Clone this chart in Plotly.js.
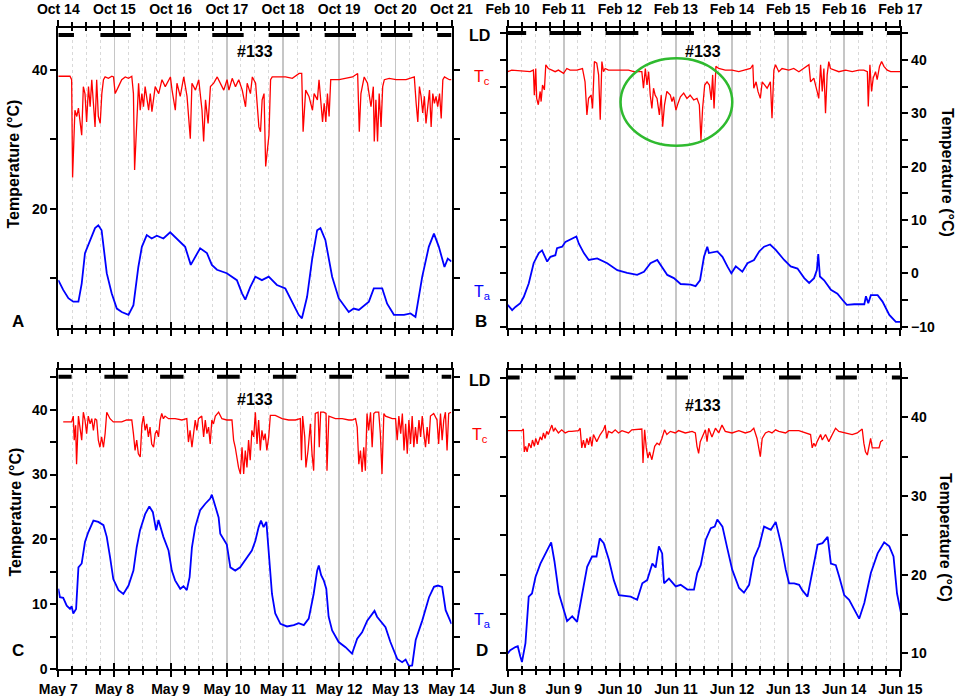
<!DOCTYPE html>
<html><head><meta charset="utf-8">
<script src="https://cdn.plot.ly/plotly-3.0.1.min.js"></script>
<style>html,body{margin:0;padding:0;background:#fff}#chart{width:957px;height:696px}</style>
</head><body><div id="chart"></div>
<script>
// ---------- tick labels ----------
const daysA = ['Oct 14','Oct 15','Oct 16','Oct 17','Oct 18','Oct 19','Oct 20','Oct 21'];
const daysB = ['Feb 10','Feb 11','Feb 12','Feb 13','Feb 14','Feb 15','Feb 16','Feb 17'];
const daysC = ['May 7','May 8','May 9','May 10','May 11','May 12','May 13','May 14'];
const daysD = ['Jun 8','Jun 9','Jun 10','Jun 11','Jun 12','Jun 13','Jun 14','Jun 15'];

// ---------- panel A (October) : hours since start, temperature °C ----------
const tcA_h = [0,5,5.7,6.1,7.1,7.9,8.6,10,10.7,11.4,12.1,12.9,13.6,14.3,15,15.7,16.4,17.1,17.9,18.6,19.3,20,21.4,22.9,23.6,24.3,25.7,27.1,28.6,30,31.4,32.1,32.6,33.6,34.3,35,35.7,36.4,37.1,38.6,39.3,40,41.4,42.9,44.3,45.7,47.1,47.9,48.6,50,50.7,52.1,53.6,55,56.4,57.1,58.6,60,61.4,62.1,62.9,64,65,66.4,67.9,69.3,70.7,72.1,72.9,74.3,75.7,77.1,78.6,80,80.7,82.1,82.9,84.3,85.7,86.4,87.1,87.9,88.6,90,90.7,91.4,94.3,97.1,100,102.9,104,104.6,105.7,107.1,108.6,109.3,110.7,111.4,112.9,113.6,114.3,115,115.7,116.4,120,122.9,125.7,127.9,128.6,129.3,130.7,132.1,133.6,134.6,135,135.7,136.4,137.1,137.9,138.6,139.3,141.4,144.3,148.6,152.1,152.9,153.6,154.3,155,155.7,156.4,157.1,158.6,159.3,160,160.7,161.4,162.1,162.9,163.6,164.3,165,167.1,168];
const tcA_v = [39.1,39.1,38.6,24.5,34.2,33.3,34.5,30.6,37.6,36.6,32.5,37.6,34.7,38.6,35.2,31.8,38.6,33.3,32.3,36.6,38.6,39,38.8,39.1,39,36.6,37.6,38.6,39,38.8,39.1,36.6,25.6,32.8,38.1,34.2,36.6,34.7,37.6,34.2,36.6,34,37.6,36.6,38.6,37.6,38.6,39,37.1,34.2,38.1,36.2,39,36.2,30.1,38.1,37.1,38.6,34.2,29.7,35.7,32.3,37.6,38.1,39,38.1,37.1,38.6,37.1,38.8,37.6,38.6,37.1,34.7,38.1,36.6,39,38.1,31.8,31.1,35.7,36.6,26.1,30.6,38.6,39,39,39,38.8,39.5,39.5,31.1,37.1,36.2,34.2,36.6,35.7,38.6,32.5,35.2,32.5,36.6,33.3,38.6,38.6,38.8,39,39.5,31.1,36.6,39,38.1,34.7,37.6,29.7,35.7,29.7,36.6,31.8,37.6,38.6,38.8,38.6,38.6,39,35.2,32.5,37.6,36.2,33.8,36.2,32.3,37.1,31.8,36.6,35.2,36.2,34.7,36.6,33,38.6,39,38.6,38.6];
const taA_h = [0,2.1,4.3,6.4,8.6,10,11.4,13.6,15.7,17.1,18.5,20.7,22.8,25,27.1,30,32.1,34.2,35.7,37.8,39.9,42.1,44.9,47.8,50.6,54.2,56.6,58.5,60.6,63.5,65.6,67.8,72,76.3,78.5,79.9,82,84.2,87,89.9,93.4,97,99.9,102.7,104.1,106.3,108.4,110.6,112,114.1,117,119.8,124.1,126.2,128.4,132.7,134.8,138.4,140.5,143.4,147.7,150.5,152.6,155.5,158.3,160.5,162.6,165,166.4,168];
const taA_v = [9.7,8.3,7.1,6.6,6.6,9.2,13.6,15.5,17.2,17.6,16.9,10.7,7.8,5.6,5.1,4.7,6.1,11.6,14.5,16.2,15.7,16.1,15.7,16.6,15.7,14.5,11.9,13.1,14.3,13.6,11.9,11.2,10.7,9.7,7.8,6.9,8.7,10.2,9.7,10.2,9.0,8.5,6.6,4.7,4.2,7.3,12.6,16.9,17.2,15.5,10.2,7.1,5.1,5.6,5.4,6.6,8.5,8.5,6.3,4.7,4.7,4.9,4.4,10.2,14.5,16.4,14.5,11.6,12.8,12.4];
const nightA_start = [0,18,41.7,65.8,89.9,113.8,137.8,161.9];
const nightA_end   = [6.7,31,55,79.2,103.1,127.2,151.3,168];

// ---------- panel B (February) ----------
const tcB_h = [0,1.7,9.6,11,11.4,12,12.4,13.1,13.9,14.3,14.9,15.7,16.3,17.4,18.9,20.3,21.7,23.9,25.3,26.7,29.6,32,33.1,33.9,34.6,35.7,36.3,37.1,38.1,38.9,39.6,40.3,41,41.7,43.1,46,48.1,51.7,53.9,57.4,58.1,58.9,59.6,60.3,61,61.7,62.4,63.1,63.9,64.9,65.7,66.3,67.1,68.1,69.6,70.3,71,72,72.9,73.9,75.3,76.7,78.1,79.6,81,82,82.7,83.4,84.3,85.3,86.3,87.1,87.7,88.3,89.1,90.3,93.1,96,98.9,101.7,103.9,104.9,105.3,106.3,107.1,108.1,108.9,110,111,112.4,113.1,113.9,114.6,116,117.4,120.3,122.4,124.6,126.7,128.9,129.6,131,132.4,133.1,133.9,134.6,135.3,136,136.7,137.4,138.1,139.6,141.7,144.6,147.4,150.3,152.4,153.9,154.3,155,155.7,156.4,157.4,158.1,159.1,160,161,162.4,163.9,168];
const tcB_v = [37.8,38.1,37.8,38.1,33.4,38.4,32.8,31.6,34.1,32.2,35.3,34.4,39.1,38.4,38.1,37.8,38.1,37.5,38.4,38.1,38.1,38.4,35.9,29.7,32.8,33.4,30.9,39.7,39.4,37.2,28.8,39.7,37.8,38.4,38.1,38.1,38.1,38.1,37.8,37.8,34.7,38.4,35.3,37.8,33.4,30.9,34.7,33.4,32.8,29.7,33.4,27.5,31.6,34.1,33.4,32.2,33.1,30.6,31.9,33.1,33.8,32.8,33.4,32.5,32.8,31.6,25,30.9,35.3,35.9,35.3,32.5,37.2,30.9,38.8,38.4,38.1,38.1,37.8,38.1,38.4,39.1,34.7,35.9,34.1,32.8,35.9,35.3,34.7,35.9,29.1,38.1,39.1,37.8,38.4,38.1,38.4,37.8,38.4,39.1,35.9,36.6,34.1,32.8,39.1,34.1,38.4,30,37.2,39.7,38.4,38.1,37.8,38.1,37.8,38.1,38.1,37.8,31.3,39.1,34.1,36.6,37.8,36.3,38.8,39.7,38.8,38.1,37.8,37.8];
const taB_h = [0,1.9,3.3,5.4,6.9,9,11.1,13.3,14.7,16.9,18.3,20.4,21.1,23.3,24.7,26.9,29.4,30.4,32.6,34.7,38.3,42.6,46.9,51.1,55.4,58.3,61.1,64,65.4,68.3,71.1,74,78.3,80.4,82.3,84,85.4,86.1,89.7,91.9,94,95.7,97.6,100.4,102.6,105.4,107.6,109.7,112.3,114.7,118.3,121.1,124,126.9,129,131.1,132.3,132.9,133.6,135.4,138.3,141.1,143.3,145.1,148.3,152.6,153.3,154.3,155.4,158.3,160.4,163.3,166.1,168];
const taB_v = [-5.9,-6.9,-6.3,-5.6,-4.4,-1.9,1.9,3.8,4.3,2.2,3.1,3.4,4.7,5,5.9,6.4,6.9,5.6,3.8,2.5,2.8,1.9,0.6,0.1,-0.3,0.3,1.9,2.5,1.6,-0.3,-0.9,-2,-2.1,-2.4,-1.3,3.1,5,3.8,4.1,3.1,1.3,0,1.3,0.3,1.9,2.5,4.1,5,5.4,4.4,2.5,1.3,0.9,-0.9,-1.8,-0.9,0.6,3.6,-0.6,-1.3,-3.1,-3.8,-5,-5.9,-5.8,-5.8,-4.3,-5.6,-4.1,-4.1,-5.3,-7.8,-9.1,-9.1];
const nightB_start = [0,17.9,41.9,65.9,90,114,138.3,162.3];
const nightB_end   = [7.9,31.4,55.9,79.7,104,127.9,152.1,168];
const highlightB_hours = [48.3, 96.1];
const highlightB_temp  = [23.9, 40.3];

// ---------- panel C (May) ----------
const tcC_h = [2.1,5.7,6.4,6.8,7.4,7.8,8.6,9.3,10,10.7,11.4,12.1,12.8,13.6,14.3,15,15.7,16.4,17.1,17.8,18.5,19.3,20,20.7,22.1,23.5,27.1,29.2,31.4,32.1,32.8,33.5,34.2,35,35.7,36.4,37.1,37.8,38.5,39.2,39.9,40.7,41.4,42.1,42.8,43.5,44.2,44.9,45.6,47.1,49.9,52.8,54.9,55.6,56.3,57.1,57.8,58.5,59.2,59.9,61.3,62.1,62.8,63.5,64.2,64.9,65.6,66.3,67.1,68.5,69.9,72,74.2,74.9,75.6,76.3,77,77.8,78.5,79.2,79.9,80.6,81.3,82,82.7,83.5,84.2,84.9,85.6,86.3,87,87.7,88.4,89.1,89.9,90.6,92.7,95.6,98.4,101.3,103.4,103.9,104.4,105.3,105.8,106.7,107.7,108.4,109.1,109.8,111,111.5,112.1,113.4,114.4,114.8,115.6,118.4,121.3,124.1,125.5,127,127.7,128.4,129.1,129.8,130.5,131.2,131.9,132.6,133.4,134.1,134.8,135.5,136.9,137.6,138.3,139.1,139.8,142.7,144.1,144.8,145.5,146.3,147,147.7,148.4,149.1,149.8,150.5,151.2,151.9,152.6,153.3,154.1,154.8,155.5,156.2,156.9,157.6,158.3,159,160.4,161.8,162.5,163.3,164,164.7,165.4,166.1,166.8,167.8];
const tcC_v = [38.1,38.1,39,35.3,37.6,31.6,39,37.3,35.3,39.6,38.4,36.3,39,37.8,38.6,36.8,38.6,38.4,35.3,34.2,35.8,34.2,36.3,39.6,38.6,38.1,38.1,38.4,38.4,36.3,33.7,35.3,33.2,32.7,37.6,39,36.8,37.8,35.8,37.3,34.7,34.2,36.3,36.8,35.8,38.4,39.4,38.6,39,38.6,38.6,38.4,38.6,35,36.8,34.2,36.3,38.4,36.8,38.6,39,35.8,38.4,36.3,37.3,34.7,38.4,37.8,39,39.6,38.6,38.4,38.4,35.3,34.2,32.7,31.1,30.1,34.2,30.1,33.7,31.1,35.3,32.2,36.8,35.8,39.6,34.7,38.4,33.7,36.8,35.3,36.3,33.7,35.8,39.1,39.1,38.6,38.4,38.4,38.6,32.2,39,35.8,31.1,33.7,37.8,33.2,30.6,39.4,39.6,34.2,39.6,39.6,39.4,30.6,39,38.6,38.6,38.4,38.4,38.6,37.3,31.6,33.7,30.4,34.2,30.6,39.4,36.8,39.6,34.2,39.4,39.6,39.6,36.3,30.1,39.4,39,38.6,38.6,35.3,39,36.3,39.4,33.7,37.8,33.2,38.4,34.7,39,34.2,37.3,34.7,38.4,35.8,39,36.3,34.2,37.3,34.7,39,39.4,38.4,34.7,39.4,35.3,38.4,39.6,33.7,39.4,39.6];
const taC_h = [0,0.7,2.1,3.6,5,5.7,6.4,7.6,8.6,10,11.4,12.8,15,17.1,19.3,20.7,22.1,23.5,25.7,27.8,30,32.1,33.5,34.9,37.1,38.9,40.4,41.8,42.8,44.9,47.1,48.5,49.9,52.1,53.5,54.9,56.1,57.1,58.5,60.6,62.8,64.9,65.6,67,68.5,69.2,72,73.5,75.6,77.7,80.6,82.7,84.2,85.6,86.6,87.7,88.9,89.9,91.3,92.7,94.9,97.7,100.6,102.7,104.9,107,109.1,110.6,111.3,112.3,113.4,114.5,115.5,117,119.8,122.7,125.5,127.7,129.8,132,135.1,136.2,139.8,141.9,144.8,146.9,148.4,149.8,151.2,152.7,155.5,158.4,160.5,162.2,164,165.5,166.9,168];
const taC_v = [12.4,11.1,11,9.8,9.3,9.7,8.6,9.3,15.7,16.3,19.6,21.1,22.9,22.7,22.2,20.4,17.3,13.9,12.2,11.6,12.9,15.2,18.8,21.4,23.9,25.1,24.2,21.4,23,20.4,18.3,15.2,13.7,12.4,12.8,12.2,14.2,18.8,21.9,24.5,25.5,26.3,26.9,25.2,23.4,20.9,19.2,15.7,15.2,15.7,17.3,18.3,19.8,21.9,22.9,21.9,22.7,17.8,11.6,8.6,7.0,6.6,6.8,7.1,6.8,7.8,11.6,15.2,16,14.5,13.7,12.4,8.1,6,4.2,3.4,2.4,4.7,5.7,7.5,9,8.1,6.5,4.2,1.6,1.1,1.5,0.5,0.6,4.5,7.5,11.1,12.7,12.9,12.7,9.1,7.8,7.0];
const nightC_start = [0,19.7,43.5,67.8,91.7,115.8,139.8,163.8];
const nightC_end   = [5.7,29.7,53.5,77.5,101.7,125.5,149.8,168];

// ---------- panel D (June) ----------
const tcD_h = [0,6,6.7,7.1,7.7,8.3,9.1,10,10.6,11.4,12,12.9,13.9,14.6,15.3,16,16.7,17.4,18.1,18.9,19.6,20.3,21.7,23.1,24.6,26,27.4,30.3,31,31.7,32.4,33.1,33.9,34.6,35.3,36,36.7,37.4,38.1,39.6,41,41.7,42.4,43.1,44.6,46,47.4,48.9,51.7,53.1,56.7,57.4,57.9,58.6,59.3,60,60.7,61.7,62.9,63.9,64.9,66,67.1,68.1,69.6,71.7,73.1,76,78.9,80.3,81,81.7,82.4,83.9,84.6,85.3,86,87.4,88.9,90.3,91.7,93.1,96,98.9,101.7,103.9,105.3,106.7,108.1,108.9,110.3,111.7,113.1,114.6,116,118.9,120.3,124.6,127.4,129.6,130.3,131,131.7,132.4,133.9,134.6,136,137.4,138.9,140.3,141.7,144.6,147.4,149.6,151.7,152.4,153.1,153.9,154.6,155.3,156,157.4,158.9,159.6,160.6];
const tcD_v = [38.3,38.3,38.5,35.6,36.3,35.6,36.7,36.1,37.1,36.3,37.3,36.5,37.5,37.1,38,37.3,38.2,37.8,38.4,39,38.2,38.6,38,38.4,38,38.2,38.2,38.3,38.6,36.1,37.1,36.1,37.3,36.5,37.5,36.3,37.8,37.3,36.9,37.8,38.4,39,37.3,38.2,38,38.4,38,38.3,38,38.4,38.5,38.5,34.2,38.4,36.1,34.8,35.6,34.6,36.3,36.7,36.5,37.3,38.4,37.8,38.2,38,38.3,38,38.2,38,36.3,35.4,36.9,37.8,38.4,36.9,38.6,37.5,38.6,38,39,38.2,38,38.3,38,38.2,38.6,37.3,35,37.3,38,38.2,38,38.4,38.2,38,38.3,38.3,38,37.8,36.1,36.7,36.3,36.9,37.8,37.1,37.8,36.9,37.8,38.6,38.2,38,37.8,38,38.5,36.7,35.6,35.2,36.5,37.3,36.1,36.1,36.1,36.9,37.1];
const taD_h = [0,1.1,3.3,4.3,5.4,6.1,7.6,9,10.4,11.9,14,16.1,17.6,18.6,20,21.9,24,25.4,27.6,29.7,31.9,34,36.1,38,39.4,41.1,43.3,45.4,47.6,49.7,52.6,55.4,57.6,59.7,61.9,63.3,64.7,66.1,66.9,69,71.9,74,76.9,79.7,81.1,82.6,84.7,86.9,88.6,89.7,91.9,94,96.1,99,101.1,103.3,105.4,107.6,109.7,112.6,114.7,116.9,119,120.4,122.6,124.7,126.1,128.3,129.7,132.6,134.7,136.9,138.3,140.4,141.9,144,146.1,148.3,150.4,152.6,155.4,158.3,161.1,163.3,165.1,166.6,168.3];
const taD_v = [10,10.4,10.8,10.9,9.6,8.9,11.3,17.2,17.6,19.7,21.4,22.7,23.6,24.1,21.7,17.6,15.5,14.1,14.7,14,17.6,21,22.3,22.3,24.6,24,21.9,19.3,17.4,17.3,17.2,16.8,18.9,19.3,21.4,20.9,23.6,22.7,18.9,19.5,18.5,18.7,18.1,18.1,20.2,21.2,24.4,25.9,26.1,27,26.1,23.3,20.6,18.3,17.7,18.7,22.1,23.6,26.1,25.7,26.7,24,20.6,18.9,18.9,18.7,18,17.2,19.3,23.8,24,24.8,21.4,21.2,19.7,17.4,16.8,15.5,14.4,16.4,20.2,22.7,24.1,23.6,22.3,17.6,15.1];
const nightD_start = [0,20,44,68,92.1,116.1,140.4,164.4];
const nightD_end   = [5.1,29.1,53.3,77.1,101.1,125.4,149.4,168];

// ---------- drawing ----------
const FONT = 'Liberation Sans, Arial, Helvetica, sans-serif';
const W = 957, H = 696;
const px = v => v / W, py = v => 1 - v / H;
const RED = 'rgb(255,0,0)', BLUE = 'rgb(0,0,255)';
const LD_LEVEL = 45.05;

const dayVals = [];
for (let h = 0; h <= 168; h += 24) dayVals.push(h);
const minorVals = [];
for (let h = 6; h < 168; h += 6) if (h % 24) minorVals.push(h);

function series(xs, ys, xa, ya, color, width) {
  return {x: xs, y: ys, xaxis: xa, yaxis: ya, type: 'scatter', mode: 'lines',
          line: {color: color, width: width, shape: 'linear'}, hoverinfo: 'skip', showlegend: false};
}
function ldBars(starts, ends, xa, ya) {
  const x = [], y = [];
  starts.forEach((s, i) => { x.push(s, ends[i], null); y.push(LD_LEVEL, LD_LEVEL, null); });
  return {x, y, xaxis: xa, yaxis: ya, type: 'scatter', mode: 'lines',
          line: {color: '#000', width: 4}, hoverinfo: 'skip', showlegend: false};
}
function dummy(xa, ya) {
  return {x: [null], y: [null], xaxis: xa, yaxis: ya, type: 'scatter', mode: 'lines',
          hoverinfo: 'skip', showlegend: false};
}

const tickFont = {family: FONT, size: 14, color: '#000', weight: 'bold'};

function xAxis(dom, labels, side, anchor) {
  return {
    domain: dom, range: [0, 168], anchor: anchor, side: side,
    tickmode: 'array', tickvals: dayVals, ticktext: labels,
    ticks: 'outside', ticklen: 6, tickwidth: 2, tickcolor: '#000',
    showline: true, linewidth: 2, linecolor: '#000', mirror: 'ticks',
    showgrid: true, gridcolor: '#c6c6c6', gridwidth: 1.5, zeroline: false,
    tickfont: tickFont, automargin: false, fixedrange: true,
    minor: {tickmode: 'array', tickvals: minorVals, ticks: 'outside', ticklen: 4,
            tickwidth: 2, tickcolor: '#000', showgrid: true, gridcolor: '#d9d9d9',
            gridwidth: 1, griddash: 'dot'}
  };
}
// overlay axis that adds the inner half of the crossing ticks
function xInner(over, anchor, side) {
  return {
    overlaying: over, anchor: anchor, side: side, range: [0, 168],
    tickmode: 'array', tickvals: dayVals, showticklabels: false,
    ticks: 'inside', ticklen: 6, tickwidth: 2, tickcolor: '#000',
    showline: false, mirror: 'ticks', showgrid: false, zeroline: false,
    automargin: false, fixedrange: true,
    minor: {tickmode: 'array', tickvals: minorVals, ticks: 'inside', ticklen: 3,
            tickwidth: 2, tickcolor: '#000', showgrid: false}
  };
}
function yAxis(dom, range, vals, minorV, side, anchor) {
  return {
    domain: dom, range: range, anchor: anchor, side: side,
    tickmode: 'array', tickvals: vals,
    ticks: 'outside', ticklen: 6, tickwidth: 2, tickcolor: '#000',
    showline: true, linewidth: 2, linecolor: '#000', mirror: 'ticks',
    showgrid: false, zeroline: false, tickfont: tickFont, automargin: false, fixedrange: true,
    minor: {tickmode: 'array', tickvals: minorV, ticks: 'outside', ticklen: 6,
            tickwidth: 2, tickcolor: '#000', showgrid: false}
  };
}

const xdomL = [px(58.3), px(451.5)], xdomR = [px(507.7), px(900.3)];
const ydomT = [py(328), py(27.7)], ydomB = [py(669.3), py(370)];

const data = [
  series(taA_h, taA_v, 'x', 'y', BLUE, 1.8),
  series(tcA_h, tcA_v, 'x', 'y', RED, 1.3),
  ldBars(nightA_start, nightA_end, 'x', 'y'),
  series(taB_h, taB_v, 'x2', 'y2', BLUE, 1.8),
  series(tcB_h, tcB_v, 'x2', 'y2', RED, 1.3),
  ldBars(nightB_start, nightB_end, 'x2', 'y2'),
  series(taC_h, taC_v, 'x3', 'y3', BLUE, 1.8),
  series(tcC_h, tcC_v, 'x3', 'y3', RED, 1.3),
  ldBars(nightC_start, nightC_end, 'x3', 'y3'),
  series(taD_h, taD_v, 'x4', 'y4', BLUE, 1.8),
  series(tcD_h, tcD_v, 'x4', 'y4', RED, 1.3),
  ldBars(nightD_start, nightD_end, 'x4', 'y4'),
  dummy('x5', 'y'), dummy('x6', 'y2'), dummy('x7', 'y3'), dummy('x8', 'y4')
];

function txt(text, x, y, size, opts) {
  return Object.assign({text: text, x: px(x), y: py(y), xref: 'paper', yref: 'paper',
    showarrow: false, xanchor: 'center', yanchor: 'middle',
    font: {family: FONT, size: size, color: '#000', weight: 'bold'}}, opts || {});
}
const tcFont = {family: FONT, size: 16, color: RED, weight: 'normal'};
const taFont = {family: FONT, size: 16, color: BLUE, weight: 'normal'};

const annotations = [
  txt('#133', 255, 51, 16), txt('#133', 703, 51, 16),
  txt('#133', 255, 399, 16), txt('#133', 703, 405, 16),
  txt('LD', 479, 36, 16), txt('LD', 479, 380, 16),
  txt('A', 17.5, 321, 17), txt('B', 481, 321, 17),
  txt('C', 18, 650, 17), txt('D', 482, 650, 17),
  txt('T<sub>c</sub>', 472, 77, 16, {xanchor: 'left', font: tcFont}),
  txt('T<sub>a</sub>', 472, 292, 16, {xanchor: 'left', font: taFont}),
  txt('T<sub>c</sub>', 470, 435, 16, {xanchor: 'left', font: tcFont}),
  txt('T<sub>a</sub>', 472, 620, 16, {xanchor: 'left', font: taFont}),
  txt('Temperature (°C)', 12.5, 164, 16, {textangle: -90}),
  txt('Temperature (°C)', 14.5, 512, 16, {textangle: -90}),
  txt('Temperature (°C)', 947, 172, 16, {textangle: 90}),
  txt('Temperature (°C)', 946, 537, 16, {textangle: 90})
];

const layout = {
  width: W, height: H, margin: {l: 0, r: 0, t: 0, b: 0, pad: 0},
  paper_bgcolor: '#fff', plot_bgcolor: 'rgba(0,0,0,0)', showlegend: false,
  font: {family: FONT, color: '#000'},
  xaxis:  xAxis(xdomL, daysA, 'top', 'y'),
  yaxis:  yAxis(ydomT, [2.8, 46.1], [20, 40], [10, 30], 'left', 'x'),
  xaxis2: xAxis(xdomR, daysB, 'top', 'y2'),
  yaxis2: yAxis(ydomT, [-10.25, 46.05], [-10, 0, 10, 20, 30, 40], [-5, 5, 15, 25, 35, 45], 'right', 'x2'),
  xaxis3: xAxis(xdomL, daysC, 'bottom', 'y3'),
  yaxis3: yAxis(ydomB, [0, 46.1], [0, 10, 20, 30, 40], [5, 15, 25, 35, 45], 'left', 'x3'),
  xaxis4: xAxis(xdomR, daysD, 'bottom', 'y4'),
  yaxis4: yAxis(ydomB, [7.97, 46.0], [10, 20, 30, 40], [15, 25, 35, 45], 'right', 'x4'),
  xaxis5: xInner('x', 'y', 'top'),
  xaxis6: xInner('x2', 'y2', 'top'),
  xaxis7: xInner('x3', 'y3', 'bottom'),
  xaxis8: xInner('x4', 'y4', 'bottom'),
  shapes: [{type: 'circle', xref: 'x2', yref: 'y2',
            x0: highlightB_hours[0], x1: highlightB_hours[1],
            y0: highlightB_temp[0], y1: highlightB_temp[1],
            line: {color: '#2fba2f', width: 2.5}}],
  annotations: annotations
};

Plotly.newPlot('chart', data, layout, {staticPlot: true, displayModeBar: false});
</script>
</body></html>
